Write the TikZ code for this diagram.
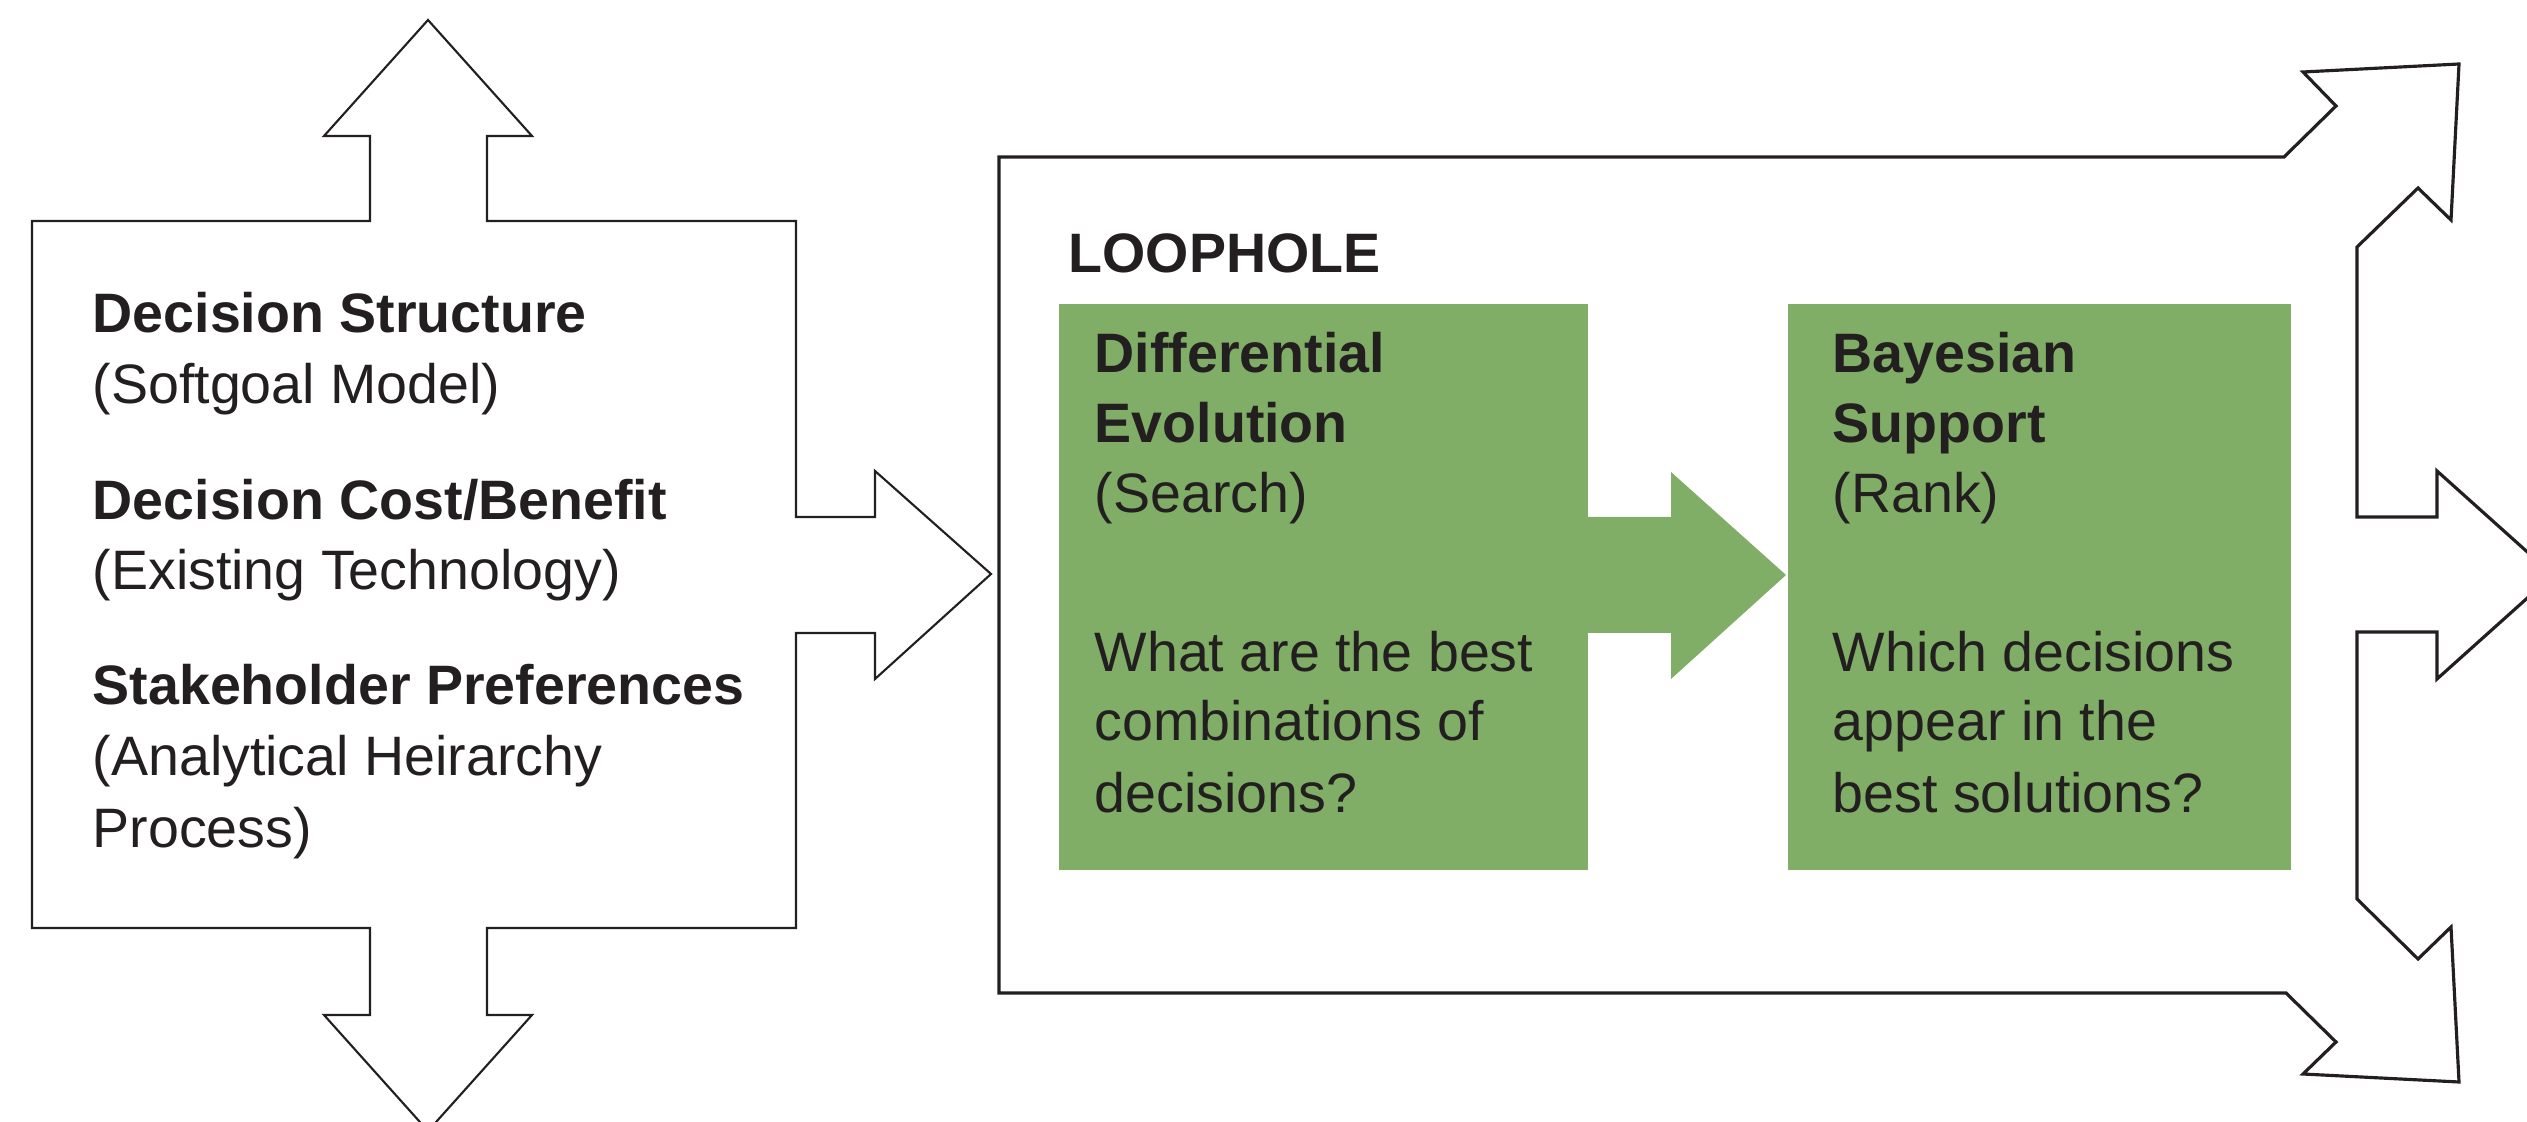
\documentclass[tikz,border=0pt]{standalone}
\usepackage{fontspec}
\setmainfont{Liberation Sans}
\usepackage{tikz}
\definecolor{leafgreen}{RGB}{128,174,102}
\definecolor{inkblack}{RGB}{35,31,32}
\tikzset{
  txt/.style={anchor=base west, inner sep=0pt, text=inkblack, font=\fontsize{15.8}{20}\selectfont},
  hd/.style={txt, font=\fontsize{15.8}{20}\selectfont\bfseries},
  outline/.style={draw=inkblack, line width=0.6pt, line join=miter},
  frame/.style={draw=inkblack, line width=0.9pt, line join=miter},
  greenfill/.style={fill=leafgreen, draw=none}
}

\begin{document}
\begin{tikzpicture}[x=0.01cm, y=-0.01cm]
      \useasboundingbox (0,0) rectangle (2527,1122);
      \clip (0,0) rectangle (2527,1122);

      % inputs box with four block arrows
      \draw[outline] (428,20) -- (532,136) -- (487,136) -- (487,221) -- (796,221)
        -- (796,517) -- (875,517) -- (875,471) -- (991,574) -- (875,679) -- (875,633)
        -- (796,633) -- (796,928) -- (487,928) -- (487,1015) -- (532,1015)
        -- (428,1131) -- (324,1015) -- (370,1015) -- (370,928) -- (32,928)
        -- (32,221) -- (370,221) -- (370,136) -- (324,136) -- cycle;

      % loophole frame
      \draw[frame] (999,157) -- (2284,157) -- (2336,106) -- (2303,72) -- (2459,64)
        -- (2451,220) -- (2418,188) -- (2357,247) -- (2357,517) -- (2437,517)
        -- (2437,471) -- (2553,575) -- (2437,679) -- (2437,632) -- (2357,632)
        -- (2357,899) -- (2418,959) -- (2451,927) -- (2459,1082) -- (2303,1074)
        -- (2336,1042) -- (2286,993) -- (999,993) -- cycle;

      \fill[greenfill] (1059,304) rectangle (1588,870);
      \fill[greenfill] (1788,304) rectangle (2291,870);
      \fill[greenfill] (1580,517) -- (1671,517) -- (1671,472) -- (1786,575)
        -- (1671,679) -- (1671,633) -- (1580,633) -- cycle;

      \node[hd] (ds) at (92,333) {Decision Structure};
      \node[txt] (sm) at (92,404) {(Softgoal Model)};
      \node[hd] (dc) at (92,520) {Decision Cost/Benefit};
      \node[txt] (et) at (92,590) {(Existing Technology)};
      \node[hd] (sp) at (92,705) {Stakeholder Preferences};
      \node[txt] (ah) at (92,775) {(Analytical Heirarchy};
      \node[txt] (pr) at (92,847) {Process)};

      \node[hd] (lh) at (1068,273) {LOOPHOLE};

      \node[hd] (de1) at (1094,373) {Differential};
      \node[hd] (de2) at (1094,443) {Evolution};
      \node[txt] (se) at (1094,513) {(Search)};
      \node[txt] (q1a) at (1094,672) {What are the best};
      \node[txt] (q1b) at (1094,741) {combinations of};
      \node[txt] (q1c) at (1094,812) {decisions?};

      \node[hd] (bs1) at (1832,373) {Bayesian};
      \node[hd] (bs2) at (1832,443) {Support};
      \node[txt] (rk) at (1832,513) {(Rank)};
      \node[txt] (q2a) at (1832,672) {Which decisions};
      \node[txt] (q2b) at (1832,741) {appear in the};
      \node[txt] (q2c) at (1832,812) {best solutions?};
    \end{tikzpicture}
\end{document}
